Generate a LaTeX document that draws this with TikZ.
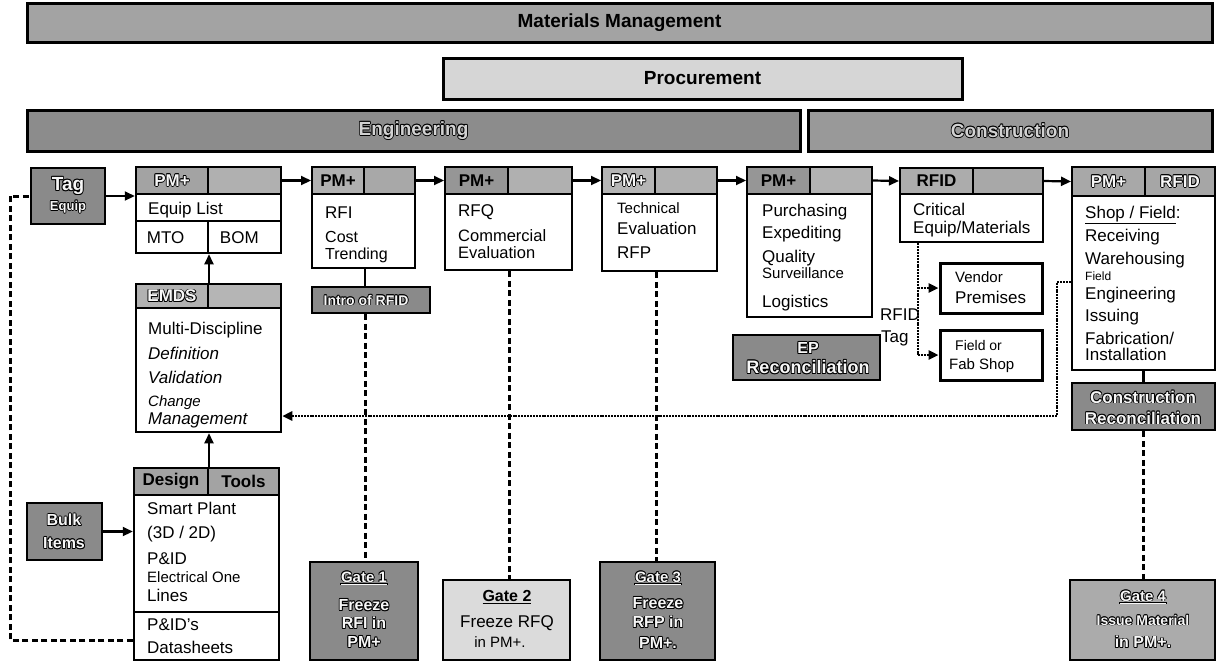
\documentclass[tikz,border=0pt]{standalone}
\usepackage{fontspec}
\setmainfont{Liberation Sans}
\usetikzlibrary{arrows.meta,fit,calc}
\definecolor{cMM}{gray}{0.64}
\definecolor{cPr}{gray}{0.84}
\definecolor{cEn}{gray}{0.55}
\definecolor{cCo}{gray}{0.60}
\definecolor{dk}{gray}{0.54}
\definecolor{gB}{gray}{0.86}
\definecolor{gD}{gray}{0.67}
\newcommand\fz[1]{\fontsize{#1}{#1}\selectfont}
\newcommand\outl[2][gray!6]{{\setbox0\hbox{#2}%
\rlap{\color{black}\kern.8pt\copy0}%
\rlap{\color{black}\kern-.8pt\copy0}%
\rlap{\color{black}\raise.8pt\copy0}%
\rlap{\color{black}\lower.8pt\copy0}%
\rlap{\color{black}\kern.6pt\raise.6pt\copy0}%
\rlap{\color{black}\kern-.6pt\raise.6pt\copy0}%
\rlap{\color{black}\kern.6pt\lower.6pt\copy0}%
\rlap{\color{black}\kern-.6pt\lower.6pt\copy0}%
\color{#1}\box0}}
\begin{document}
\begin{tikzpicture}[x=1pt,y=-1pt,
  banner/.style={draw, line width=3pt, inner sep=0pt},
  btxt/.style={inner sep=0pt, font=\fz{19}\bfseries},
  body/.style={draw, line width=2.5pt, fill=white, inner sep=0pt},
  hcell/.style={draw, line width=2pt, inner sep=0pt},
  htxt/.style={inner sep=0pt, font=\fz{17}\bfseries},
  dbox/.style={draw, line width=2.5pt, inner sep=0pt, fill=dk},
  ln/.style={anchor=base west, inner sep=0pt, font=\fz{17}, yshift=-6pt},
  lni/.style={anchor=base west, inner sep=0pt, font=\fz{17}\itshape, yshift=-6pt},
  lns/.style={anchor=base west, inner sep=0pt, font=\fz{15}, yshift=-5.4pt},
  lnt/.style={anchor=base west, inner sep=0pt, font=\fz{12}, yshift=-4.3pt},
  ct/.style={inner sep=0pt, font=\fz{16}\bfseries},
  arr/.style={line width=2.2pt, -{Triangle[length=10pt,width=9pt]}},
  tip/.style={-{Triangle[length=10pt,width=9pt]}},
  solidl/.style={line width=2.2pt},
  dashl/.style={line width=3pt, dash pattern=on 6pt off 3.5pt},
  dotl/.style={line width=2.8pt, dash pattern=on 2pt off 0.9pt}
]
\useasboundingbox (0,0) rectangle (1224,662);
\fill[white] (0,0) rectangle (1224,662);

% banners
\node[banner, fill=cMM, fit={(27,3)(1212,42)}] (mm) {};
\node[btxt] at (mm.center) {Materials Management};
\node[banner, fill=cPr, fit={(443,58)(962,99)}] (pr) {};
\node[btxt] at (pr.center) {Procurement};
\node[banner, fill=cEn, fit={(27,110)(800,151)}] (en) {};
\node[btxt] at (en.center) {\outl[gray!35]{Engineering}};
\node[banner, fill=cCo, fit={(808,110)(1212,151)}] (co) {};
\node[btxt] at (co.center) {\outl[gray!35]{Construction}};

% Tag Equip
\node[dbox, fit={(31,168)(105,224)}] (Tag) {};
\node[ct, font=\fz{19}\bfseries] at (68,186) {\outl{Tag}};
\node[ct, font=\fz{13}\bfseries] at (68,207) {\outl{Equip}};

% Box A: Equip List
\node[body, fit={(136,167)(281,253)}] (A) {};
\node[hcell, fill=gray!72, fit={(136,167)(208,194)}] (A1) {};
\node[htxt] at (A1.center) {\outl{PM+}};
\node[hcell, fill=gray!62, fit={(208,167)(281,194)}] (A2) {};
\node[body, fit={(136,194)(281,221)}] (Ar) {};
\node[body, fit={(136,221)(208,253)}] (Am) {};
\node[body, fit={(208,221)(281,253)}] (Ab) {};
\node[ln] at (148,208) {Equip List};
\node[ln] at (Am.west) [xshift=12pt] {MTO};
\node[ln] at (Ab.west) [xshift=13pt] {BOM};

% Box B: RFI
\node[body, fit={(312,167)(415,268)}] (B) {};
\node[hcell, fill=gray!62, fit={(312,167)(364,194)}] (B1) {};
\node[htxt] at (B1.center) {PM+};
\node[hcell, fill=gray!68, fit={(364,167)(415,194)}] (B2) {};
\node[ln] at (325,212) {RFI};
\node[ln, font=\fz{16}] at (325,236) {Cost};
\node[ln, font=\fz{16}] at (325,253) {Trending};

% Box C: RFQ
\node[body, fit={(445,167)(572,270)}] (C) {};
\node[hcell, fill=gray!82, fit={(445,167)(508,194)}] (C1) {};
\node[htxt] at (C1.center) {PM+};
\node[hcell, fill=gray!62, fit={(508,167)(572,194)}] (C2) {};
\node[ln] at (458,210) {RFQ};
\node[ln, font=\fz{16.5}] at (458,235) {Commercial};
\node[ln, font=\fz{16.5}] at (458,252) {Evaluation};

% Box D: Technical
\node[body, fit={(602,167)(717,271)}] (D) {};
\node[hcell, fill=gray!58, fit={(602,167)(655,194)}] (D1) {};
\node[htxt] at (D1.center) {\outl{PM+}};
\node[hcell, fill=gray!62, fit={(655,167)(717,194)}] (D2) {};
\node[lns] at (617,208) {Technical};
\node[ln] at (617,228) {Evaluation};
\node[ln] at (617,252) {RFP};

% Box E: Purchasing
\node[body, fit={(747,167)(872,317)}] (E) {};
\node[hcell, fill=gray!82, fit={(747,167)(810,194)}] (E1) {};
\node[htxt] at (E1.center) {PM+};
\node[hcell, fill=gray!60, fit={(810,167)(872,194)}] (E2) {};
\node[ln] at (762,210) {Purchasing};
\node[ln] at (762,232) {Expediting};
\node[ln] at (762,256) {Quality};
\node[lns] at (762,273) {Surveillance};
\node[ln] at (762,301) {Logistics};

% EP Reconciliation
\node[dbox, fit={(733,335)(880,380)}] (EP) {};
\node[ct] at (808,348) {\outl{EP}};
\node[ct, font=\fz{18}\bfseries] at (808,367) {\outl{Reconciliation}};

% Box F: RFID critical
\node[body, fit={(900,168)(1043,242)}] (F) {};
\node[hcell, fill=gray!65, fit={(900,168)(973,194)}] (F1) {};
\node[htxt] at (F1.center) {RFID};
\node[hcell, fill=gray!68, fit={(973,168)(1043,194)}] (F2) {};
\node[ln] at (913,209) {Critical};
\node[ln] at (913,227) {Equip/Materials};

% Vendor / Field boxes
\node[body, line width=3pt, fit={(940,263)(1042,313)}] (VP) {};
\node[lns] at (955,277) {Vendor};
\node[ln] at (955,297) {Premises};
\node[body, line width=3pt, fit={(940,330)(1042,380)}] (FS) {};
\node[lns, font=\fz{14}] at (955,345) {Field or};
\node[lns] at (949,364) {Fab Shop};
\node[ln] at (880,314) {RFID};
\node[ln] at (881,336) {Tag};

% Box G: Shop / Field
\node[body, fit={(1072,167)(1215,370)}] (G) {};
\node[hcell, fill=gray!68, fit={(1072,167)(1145,196)}] (G1) {};
\node[htxt] at (G1.center) {\outl{PM+}};
\node[hcell, fill=gray!70, fit={(1145,167)(1215,196)}] (G2) {};
\node[htxt] at (G2.center) {\outl{RFID}};
\node[ln] at (1085,212) {\underline{Shop / Field}:};
\node[ln] at (1085,235) {Receiving};
\node[ln] at (1085,258) {Warehousing};
\node[lnt] at (1085,276) {Field};
\node[ln] at (1085,293) {Engineering};
\node[ln] at (1085,315) {Issuing};
\node[ln] at (1085,338) {Fabrication/};
\node[ln] at (1085,354) {Installation};

% Construction Reconciliation
\node[dbox, fit={(1072,383)(1215,430)}] (CR) {};
\node[ct, font=\fz{17}\bfseries] at (1143,397) {\outl{Construction}};
\node[ct, font=\fz{17}\bfseries] at (1143,418) {\outl{Reconciliation}};

% Intro of RFID
\node[dbox, fit={(312,287)(430,313)}] (In) {};
\node[ct, font=\fz{14}\bfseries] at (366,300) {\outl{Intro of RFID}};

% EMDS
\node[body, fit={(136,284)(281,432)}] (EM) {};
\node[hcell, fill=gray!60, fit={(136,284)(208,308)}] (EM1) {};
\node[htxt] at (EM1.center) {\outl{EMDS}};
\node[hcell, fill=gray!58, fit={(208,284)(281,308)}] (EM2) {};
\node[ln] at (148,328) {Multi-Discipline};
\node[lni] at (148,353) {Definition};
\node[lni] at (148,377) {Validation};
\node[lni, font=\fz{15}\itshape] at (148,400) {Change};
\node[lni] at (148,418) {Management};

% Design Tools
\node[body, fit={(134,468)(279,660)}] (DT) {};
\node[hcell, fill=gray!72, fit={(134,468)(208,495)}] (DT1) {};
\node[htxt] at (DT1.center) {Design};
\node[hcell, fill=gray!72, fit={(208,468)(279,495)}] (DT2) {};
\node[htxt] at (DT2.center) {Tools};
\node[body, fit={(134,612)(279,660)}] (DTb) {};
\node[ln] at (147,508) {Smart Plant};
\node[ln] at (147,532) {(3D / 2D)};
\node[ln] at (147,558) {P\&ID};
\node[lns] at (147,577) {Electrical One};
\node[ln] at (147,595) {Lines};
\node[ln] at (147,624) {P\&ID's};
\node[ln] at (147,647) {Datasheets};

% Bulk Items
\node[dbox, fit={(27,503)(102,560)}] (Bulk) {};
\node[ct] at (64,520) {\outl{Bulk}};
\node[ct] at (64,543) {\outl{Items}};

% Gates
\node[dbox, fit={(310,562)(418,660)}] (gA) {};
\node[ct, font=\fz{15}\bfseries] at (364,578) {\outl{\underline{Gate 1}}};
\node[ct] at (364,605) {\outl{Freeze}};
\node[ct] at (364,623) {\outl{RFI in}};
\node[ct] at (364,642) {\outl{PM+}};

\node[dbox, fill=gB, fit={(443,580)(570,660)}] (gB) {};
\node[ct] at (507,597) {\underline{Gate 2}};
\node[ct, font=\fz{17}] at (507,623) {Freeze RFQ};
\node[ct, font=\fz{15}] at (500,642) {in PM+.};

\node[dbox, fit={(600,562)(715,660)}] (gC) {};
\node[ct, font=\fz{15}\bfseries] at (658,578) {\outl{\underline{Gate 3}}};
\node[ct] at (658,603) {\outl{Freeze}};
\node[ct] at (658,622) {\outl{RFP in}};
\node[ct] at (658,643) {\outl{PM+.}};

\node[dbox, fill=gD, fit={(1070,580)(1215,660)}] (gD) {};
\node[ct, font=\fz{15}\bfseries] at (1143,597) {\outl{\underline{Gate 4}}};
\node[ct, font=\fz{14}\bfseries] at (1143,620) {\outl{Issue Material}};
\node[ct] at (1143,642) {\outl{in PM+.}};

% connectors: main flow
\draw[arr] (Tag.east) -- (Tag.east -| A.west);
\draw[arr] (A2.east) -- (B1.west);
\draw[arr] (B2.east) -- (C1.west);
\draw[arr] (C2.east) -- (D1.west);
\draw[arr] (D2.east) -- (E1.west);
\draw[arr] (E2.east) -- (F1.west);
\draw[arr] (F2.east) -- (G1.west);
\draw[arr] (EM1.north east) -- (EM1.north east |- A.south);
\draw[arr] (DT1.north east) -- (DT1.north east |- EM.south);
\draw[arr] (Bulk.east) -- (Bulk.east -| DT.west);

% short solid links
\draw[solidl] (B1.east |- B.south) -- (B1.east |- In.north);
\draw[solidl] (CR.north |- G.south) -- (CR.north);

% dashed to gates
\draw[dashl] (B1.east |- In.south) -- (B1.east |- gA.north);
\draw[dashl] (C1.east |- C.south) -- (C1.east |- gB.north);
\draw[dashl] (D1.east |- D.south) -- (D1.east |- gC.north);
\draw[dashl] (CR.south) -- (CR.south |- gD.north);

% left loop
\coordinate (lp) at (10,640);
\draw[dashl] (lp -| DT.west) -- (lp) -- (lp |- Tag.west) -- (Tag.west);

% RFID tag dotted
\coordinate (rx) at (918,300);
\draw[dotl] (rx |- F.south) -- (rx |- FS.west);
\draw[dotl, tip] (rx |- FS.west) -- (FS.west);
\draw[dotl, tip] (rx |- VP.west) -- (VP.west);

% return dotted
\coordinate (rj) at (1057,282);
\coordinate (rk) at (1057,416);
\draw[dotl, tip] (rj -| G.west) -- (rj) -- (rk) -- (rk -| EM.east);
\end{tikzpicture}
\end{document}
